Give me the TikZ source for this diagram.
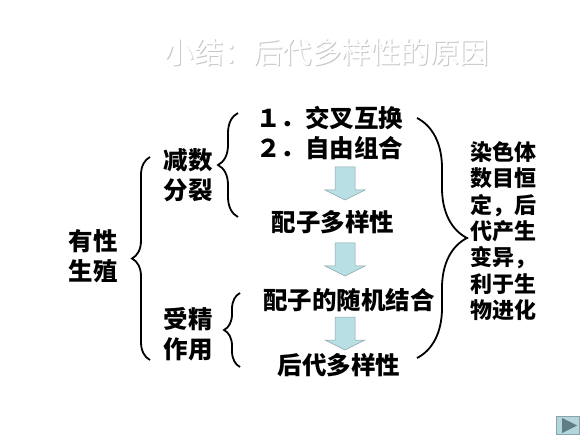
\documentclass[tikz,border=0pt]{standalone}
\usepackage{fontspec}
\newfontfamily\cjk{Noto Sans CJK SC}
\usetikzlibrary{decorations.pathreplacing}
\definecolor{arrfill}{RGB}{183,223,228}
\definecolor{arrline}{RGB}{140,165,170}
\definecolor{navfill}{RGB}{178,214,220}
\definecolor{navline}{RGB}{135,165,170}
\definecolor{navtri}{RGB}{95,125,130}
\tikzset{
  txt/.style    ={font=\cjk\bfseries\fontsize{24.5}{30}\selectfont,
                  inner sep=0pt, align=center},
  side/.style   ={font=\cjk\bfseries\fontsize{22}{26.3}\selectfont,
                  inner sep=0pt, align=left},
  ttl/.style    ={font=\cjk\fontsize{29.5}{32}\selectfont, inner sep=0pt},
  blockarr/.pic ={\draw[draw=arrline, fill=arrfill, line width=0.5pt]
                  (-10,-17) -- (10,-17) -- (10,6) -- (20,6) -- (0,16)
                  -- (-20,6) -- (-10,6) -- cycle;},
  brc/.style    ={decorate, decoration={brace, amplitude=#1},
                  line width=1.8pt},
  brc/.default=18,
}
\begin{document}
\begin{tikzpicture}[x=1pt, y=-1pt]
  \useasboundingbox (0,0) rectangle (580,435);
  % title
  \node[ttl, text=black!22] (ttlb) at (328,53) {小结：后代多样性的原因};
  \node[ttl, text=white] (ttl) at (327,52) {小结：后代多样性的原因};
  % left part
  \node[txt] (yx) at (93,256) {有性\\生殖};
  \node[txt] (js) at (188,175) {减数\\分裂};
  \node[txt] (sj) at (188,334) {受精\\作用};
  % middle column
  \node[txt, anchor=west] (jc) at (256,118) {１．交叉互换};
  \node[txt, anchor=west] (zy) at (256,148) {２．自由组合};
  \node[txt] (pz) at (333,222) {配子多样性};
  \node[txt] (sjjh) at (349,300) {配子的随机结合};
  \node[txt] (hd) at (339,365) {后代多样性};
  \pic (a1) at (345,184) {blockarr};
  \pic (a2) at (345,260) {blockarr};
  \pic (a3) at (345,334) {blockarr};
  % right text
  \node[side, anchor=west] (yy) at (470,231)
    {染色体\\数目恒\\定，后\\代产生\\变异，\\利于生\\物进化};
  % braces
  \coordinate (b1s) at (150,360);
  \coordinate (b1e) at (150,157);
  \coordinate (b2s) at (238,217);
  \coordinate (b2e) at (238,113);
  \coordinate (b3s) at (240,367);
  \coordinate (b3e) at (240,293);
  \coordinate (b4s) at (417,118);
  \coordinate (b4e) at (417,358);
  \draw[brc=18] (b1s) -- (b1e);
  \draw[brc=20] (b2s) -- (b2e);
  \draw[brc=16] (b3s) -- (b3e);
  \draw[brc=50] (b4s) -- (b4e);
  % nav button
  \draw[navline, fill=navfill, line width=1pt] (556,416) rectangle (579,434);
  \fill[navtri] (562,418) -- (577,425.5) -- (562,433) -- cycle;
\end{tikzpicture}
\end{document}
